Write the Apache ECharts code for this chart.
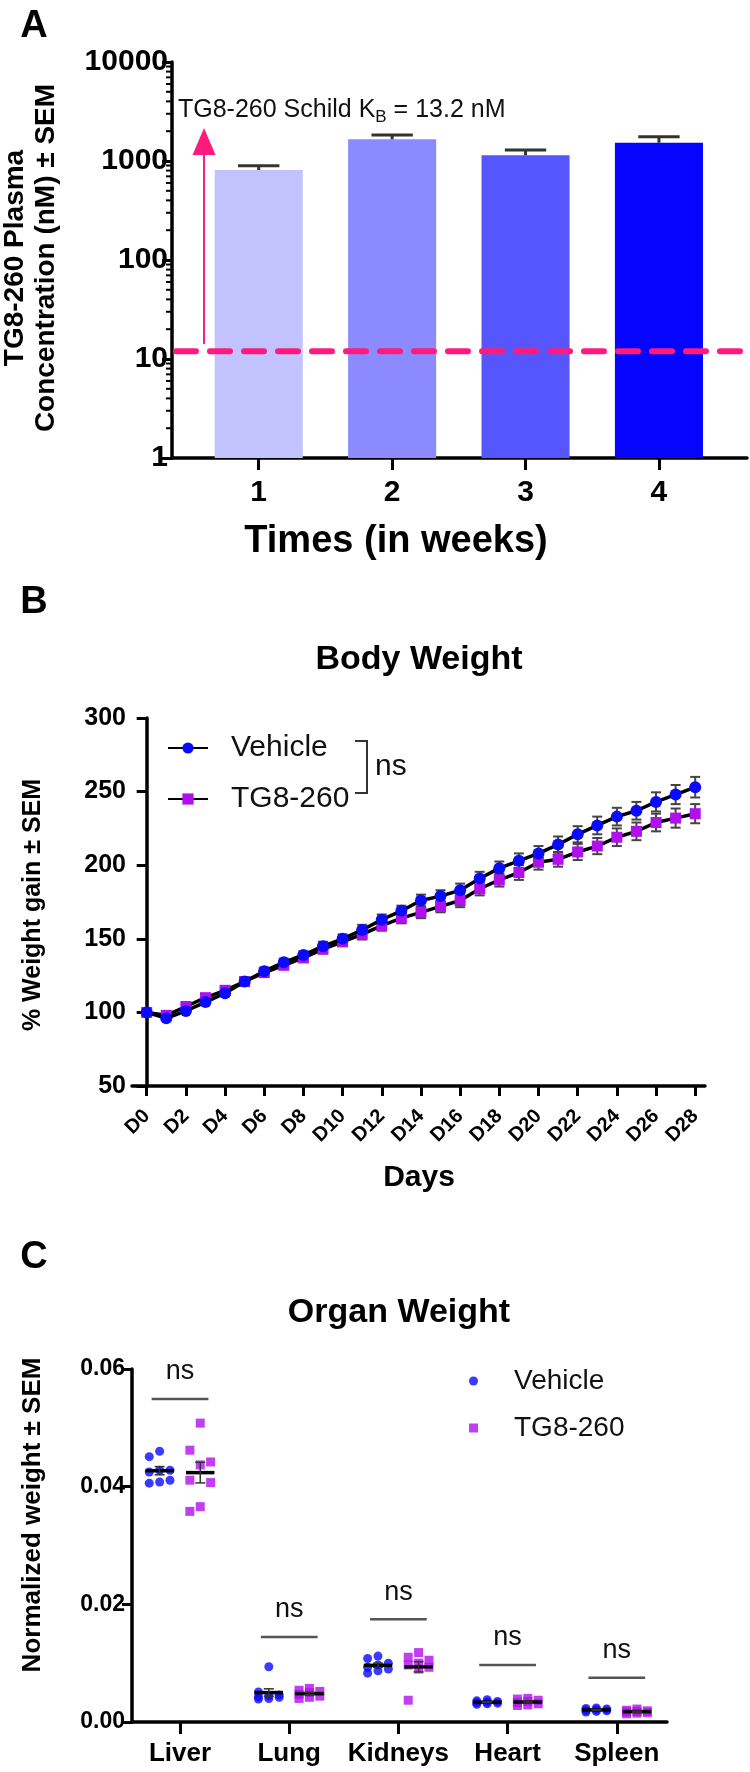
<!DOCTYPE html>
<html><head><meta charset="utf-8">
<script src="https://cdn.jsdelivr.net/npm/echarts@6/dist/echarts.min.js"></script>
<style>html,body{margin:0;padding:0;background:#fff}#c{width:750px;height:1772px}</style>
</head><body><div id="c"></div>
<script>
// ---------- Panel A data ----------
const weeks = [1, 2, 3, 4];
const plasmaMean = [811, 1657, 1142, 1530];
const plasmaSEM = [86, 175, 149, 232];
const barColors = ['#c2c2ff', '#8b8bff', '#5656ff', '#0404ff'];
const kbLineLevel = 12;          // dashed line level (K_B = 13.2 nM)
const logTickLabels = ['1', '10', '100', '1000', '10000'];

// ---------- Panel B data ----------
const days = ['D0','D1','D2','D3','D4','D5','D6','D7','D8','D9','D10','D11','D12','D13','D14',
  'D15','D16','D17','D18','D19','D20','D21','D22','D23','D24','D25','D26','D27','D28'];
const dayTicks = [0, 2, 4, 6, 8, 10, 12, 14, 16, 18, 20, 22, 24, 26, 28];
const vehicleWeight = [100, 96, 101, 107, 113, 121, 128, 134, 139, 145, 150, 156, 163, 169, 176,
  179, 183, 191, 198, 203, 208, 214, 221, 227, 233, 237, 243, 248, 253];
const vehicleWeightSEM = [1, 1, 1.5, 1.5, 2, 2, 2.5, 2.5, 2.5, 3, 3, 3.5, 3.5, 3.5, 4,
  4, 4.5, 4.5, 4.5, 5, 5, 5.5, 5.5, 6, 6, 6, 6.5, 6.5, 7];
const tgWeight = [100, 98, 104, 110, 115, 121, 127, 132, 137, 143, 148, 153, 159, 164, 168,
  172, 176, 184, 190, 195, 202, 204, 209, 213, 219, 223, 229, 232, 235];
const tgWeightSEM = [1, 1, 1.5, 1.5, 2, 2, 2.5, 2.5, 2.5, 3, 3, 3.5, 3.5, 3.5, 4,
  4, 4.5, 4.5, 4.5, 5, 5, 5, 5.5, 5.5, 6, 6, 6, 6.5, 6.5];

// ---------- Panel C data ----------
const organs = ['Liver', 'Lung', 'Kidneys', 'Heart', 'Spleen'];
const vehicleOrgan = [
  [0.0460, 0.0451, 0.0428, 0.0428, 0.0425, 0.0411, 0.0408, 0.0406],
  [0.0094, 0.0051, 0.0046, 0.0045, 0.0043, 0.0042, 0.0040, 0.0039],
  [0.0112, 0.0108, 0.0100, 0.0097, 0.0093, 0.0090, 0.0087, 0.0083],
  [0.0038, 0.0036, 0.0035, 0.0034, 0.0033, 0.0032, 0.0031, 0.0030],
  [0.0024, 0.0023, 0.0022, 0.0021, 0.0020, 0.0019, 0.0018, 0.0017]
];
const tgOrgan = [
  [0.0508, 0.0462, 0.0442, 0.0437, 0.0411, 0.0407, 0.0358, 0.0366],
  [0.0057, 0.0054, 0.0052, 0.0050, 0.0047, 0.0044, 0.0042, 0.0040],
  [0.0118, 0.0110, 0.0105, 0.0100, 0.0097, 0.0093, 0.0090, 0.0037],
  [0.0040, 0.0039, 0.0037, 0.0035, 0.0033, 0.0031, 0.0029, 0.0028],
  [0.0022, 0.0020, 0.0019, 0.0018, 0.0017, 0.0016, 0.0015, 0.0014]
];
const nsLineLevel = [0.0549, 0.01446, 0.01747, 0.0097, 0.00754];

// ---------- helpers ----------
const FONT = '"Liberation Sans", Arial, sans-serif';
const BLUE = '#0a0aff', PURPLE = '#b010ee', PINK = '#ff1a7c';
const A_XMIN = 0.35, A_XMAX = 4.66;
const B_XMIN = -0.75, B_XMAX = 28.5;
const C_XMIN = 0.56, C_XMAX = 5.46;

function mean(a) { return a.reduce((s, v) => s + v, 0) / a.length; }
function sem(a) {
  const m = mean(a);
  const sd = Math.sqrt(a.reduce((s, v) => s + (v - m) * (v - m), 0) / (a.length - 1));
  return sd / Math.sqrt(a.length);
}
function swarm(values, center) {
  const order = values.map((v, i) => i).sort((a, b) => values[b] - values[a]);
  const cols = [0, -1, 1];
  return order.map((k, r) => [center + cols[r % 3] * 0.095, values[k]]);
}
const minorLog = [];
[1, 10, 100, 1000].forEach(d => { for (let m = 2; m <= 9; m++) minorLog.push(m * d); });

const axisLineStyle = { lineStyle: { color: '#000', width: 3.5 } };
const tick = (len) => ({ show: true, inside: false, length: len, lineStyle: { color: '#000', width: 3 } });
const boldLabel = (size) => ({ color: '#000', fontWeight: 'bold', fontSize: size, fontFamily: FONT });

const vehSwarm = [], tgSwarm = [], meanSem = [];
organs.forEach((o, i) => {
  vehSwarm.push(...swarm(vehicleOrgan[i], i + 1 - 0.187));
  tgSwarm.push(...swarm(tgOrgan[i], i + 1 + 0.185));
  meanSem.push([i + 1 - 0.187, mean(vehicleOrgan[i]), sem(vehicleOrgan[i])]);
  meanSem.push([i + 1 + 0.185, mean(tgOrgan[i]), sem(tgOrgan[i])]);
});

function txt(text, x, y, size, bold, rot) {
  return { type: 'text', x: x, y: y, rotation: rot || 0, z: 10,
    style: { text: text, font: (bold ? 'bold ' : '') + size + 'px ' + FONT, fill: '#000',
      align: 'center', verticalAlign: 'middle' } };
}

const chart = echarts.init(document.getElementById('c'), null, { renderer: 'canvas', width: 750, height: 1772 });

const option = {
  backgroundColor: '#fff',
  animation: false,
  textStyle: { fontFamily: FONT },
  grid: [
    { left: 172, top: 62, width: 575, height: 396 },
    { left: 132, top: 718, width: 573, height: 368 },
    { left: 132, top: 1369, width: 535, height: 353 }
  ],
  legend: [
    { data: ['Vehicle', 'TG8-260'], orient: 'vertical', left: 162, top: 728,
      itemWidth: 40, itemHeight: 14, itemGap: 21,
      textStyle: { fontSize: 30, color: '#111', fontFamily: FONT, padding: [0, 0, 0, 18] } },
    { data: [{ name: 'Vehicle (organ)', icon: 'circle' }, { name: 'TG8-260 (organ)', icon: 'rect' }],
      orient: 'vertical', left: 464, top: 1362, itemWidth: 9, itemHeight: 9, itemGap: 19,
      formatter: n => n.replace(' (organ)', ''),
      textStyle: { fontSize: 28, color: '#111', fontFamily: FONT, padding: [0, 0, 0, 31] } }
  ],
  xAxis: [
    { gridIndex: 0, type: 'value', min: A_XMIN, max: A_XMAX, splitLine: { show: false },
      axisLine: axisLineStyle, axisTick: Object.assign({ customValues: weeks }, tick(12)),
      axisLabel: Object.assign({ customValues: weeks, margin: 20, formatter: v => String(Math.round(v)) }, boldLabel(30)) },
    { gridIndex: 1, type: 'value', min: B_XMIN, max: B_XMAX, splitLine: { show: false },
      axisLine: axisLineStyle,
      axisTick: Object.assign({ customValues: dayTicks }, tick(10)),
      axisLabel: Object.assign({ customValues: dayTicks, rotate: 45, margin: 27,
        formatter: v => days[Math.round(v)] }, boldLabel(20)) },
    { gridIndex: 2, type: 'value', min: C_XMIN, max: C_XMAX, splitLine: { show: false },
      axisLine: axisLineStyle,
      axisTick: Object.assign({ customValues: [1, 2, 3, 4, 5] }, tick(12)),
      axisLabel: Object.assign({ customValues: [1, 2, 3, 4, 5], margin: 19,
        formatter: v => organs[Math.round(v) - 1] }, boldLabel(26)) }
  ],
  yAxis: [
    { gridIndex: 0, type: 'log', logBase: 10, min: 1, max: 10000, splitNumber: 4,
      splitLine: { show: false }, axisLine: axisLineStyle, axisTick: tick(10),
      axisLabel: Object.assign({ margin: 4, formatter: v => logTickLabels[Math.round(Math.log10(v))] }, boldLabel(30)) },
    { gridIndex: 1, type: 'value', min: 50, max: 300, interval: 50,
      splitLine: { show: false }, axisLine: axisLineStyle, axisTick: tick(10),
      axisLabel: Object.assign({ margin: 6 }, boldLabel(25)) },
    { gridIndex: 2, type: 'value', min: 0, max: 0.06, interval: 0.02,
      splitLine: { show: false }, axisLine: axisLineStyle, axisTick: tick(10),
      axisLabel: Object.assign({ margin: 7, formatter: v => v.toFixed(2) }, boldLabel(23)) }
  ],
  graphic: [
    txt('A', 34, 27, 38, true),
    txt('B', 34, 603, 38, true),
    txt('C', 34, 1258, 38, true),
    txt('TG8-260 Plasma', 15, 258, 28, true, Math.PI / 2),
    txt('Concentration (nM) ± SEM', 46, 258, 28, true, Math.PI / 2),
    txt('Times (in weeks)', 396, 542, 38, true),
    txt('Body Weight', 419, 660, 34, true),
    txt('% Weight gain ± SEM', 33, 905, 25, true, Math.PI / 2),
    txt('Days', 419, 1178, 30, true),
    txt('Organ Weight', 399, 1313, 34, true),
    txt('Normalized weight ± SEM', 33, 1515, 26, true, Math.PI / 2),
    { type: 'polyline', shape: { points: [[355, 741], [367, 741], [367, 793], [355, 793]] },
      style: { stroke: '#333', lineWidth: 2, fill: null } },
    { type: 'text', x: 375, y: 767, style: { text: 'ns', font: '30px ' + FONT, fill: '#111',
      align: 'left', verticalAlign: 'middle' } }
  ],
  series: [
    // ---- Panel A: bars with upper SEM ----
    { type: 'custom', xAxisIndex: 0, yAxisIndex: 0, z: 2,
      data: weeks.map((w, i) => [w, plasmaMean[i], plasmaSEM[i], i]),
      renderItem: (params, api) => {
        const x = api.value(0), v = api.value(1), s = api.value(2), k = api.value(3);
        const l = api.coord([x - 0.33, 1]), r = api.coord([x + 0.33, v]);
        const top = api.coord([x, v]), et = api.coord([x, v + s]);
        const cl = api.coord([x - 0.155, v + s]), cr = api.coord([x + 0.155, v + s]);
        return { type: 'group', children: [
          { type: 'rect', shape: { x: l[0], y: r[1], width: r[0] - l[0], height: l[1] - r[1] },
            style: { fill: barColors[k] } },
          { type: 'line', shape: { x1: top[0], y1: top[1], x2: et[0], y2: et[1] },
            style: { stroke: '#333', lineWidth: 3 } },
          { type: 'line', shape: { x1: cl[0], y1: cl[1], x2: cr[0], y2: cr[1] },
            style: { stroke: '#333', lineWidth: 3 } }
        ] };
      } },
    // ---- Panel A: log minor ticks ----
    { type: 'custom', xAxisIndex: 0, yAxisIndex: 0, z: 3, silent: true,
      data: minorLog.map(v => [A_XMIN, v]),
      renderItem: (params, api) => {
        const p = api.coord([api.value(0), api.value(1)]);
        return { type: 'line', shape: { x1: p[0] - 6, y1: p[1], x2: p[0], y2: p[1] },
          style: { stroke: '#000', lineWidth: 2 } };
      } },
    // ---- Panel A: K_B dashed line, arrow and label ----
    { type: 'custom', xAxisIndex: 0, yAxisIndex: 0, z: 4, silent: true,
      data: [[kbLineLevel]],
      renderItem: (params, api) => {
        const kb = api.value(0);
        const a = api.coord([A_XMIN, kb]), b = api.coord([A_XMAX, kb]);
        const base = api.coord([0.59, 14.2]), head = api.coord([0.59, 1150]), tip = api.coord([0.59, 2150]);
        const t = api.coord([0.395, 3275]);
        return { type: 'group', children: [
          { type: 'line', shape: { x1: a[0] + 4, y1: a[1], x2: b[0], y2: b[1] },
            style: { stroke: PINK, lineWidth: 6, lineDash: [20, 14], lineCap: 'round' } },
          { type: 'line', shape: { x1: base[0], y1: base[1], x2: head[0], y2: head[1] },
            style: { stroke: PINK, lineWidth: 2 } },
          { type: 'polygon', shape: { points: [[tip[0], tip[1]], [head[0] - 11.5, head[1]], [head[0] + 11.5, head[1]]] },
            style: { fill: PINK } },
          { type: 'text', x: t[0], y: t[1],
            style: { text: 'TG8-260 Schild K{s|B} = 13.2 nM', fill: '#111', font: '25px ' + FONT,
              verticalAlign: 'middle', align: 'left',
              rich: { s: { fontSize: 17, padding: [14, 0, 0, 0], fill: '#111', fontFamily: FONT } } } }
        ] };
      } },
    // ---- Panel B: error bars ----
    { type: 'custom', xAxisIndex: 1, yAxisIndex: 1, z: 1, silent: true,
      data: vehicleWeight.map((v, i) => [i, v, vehicleWeightSEM[i]]).concat(tgWeight.map((v, i) => [i, v, tgWeightSEM[i]])),
      renderItem: (params, api) => {
        const x = api.value(0), v = api.value(1), s = api.value(2);
        const hi = api.coord([x, v + s]), lo = api.coord([x, v - s]);
        const st = { stroke: '#444', lineWidth: 2 };
        return { type: 'group', children: [
          { type: 'line', shape: { x1: hi[0], y1: hi[1], x2: lo[0], y2: lo[1] }, style: st },
          { type: 'line', shape: { x1: hi[0] - 5, y1: hi[1], x2: hi[0] + 5, y2: hi[1] }, style: st },
          { type: 'line', shape: { x1: lo[0] - 5, y1: lo[1], x2: lo[0] + 5, y2: lo[1] }, style: st }
        ] };
      } },
    // ---- Panel B: lines ----
    { type: 'line', name: 'TG8-260', xAxisIndex: 1, yAxisIndex: 1, z: 3,
      data: tgWeight.map((v, i) => [i, v]),
      symbol: 'rect', symbolSize: 11, lineStyle: { color: '#000', width: 3.5 },
      itemStyle: { color: PURPLE } },
    { type: 'line', name: 'Vehicle', xAxisIndex: 1, yAxisIndex: 1, z: 4,
      data: vehicleWeight.map((v, i) => [i, v]),
      symbol: 'circle', symbolSize: 12, lineStyle: { color: '#000', width: 3.5 },
      itemStyle: { color: BLUE } },
    // ---- Panel C: scatter ----
    { type: 'scatter', name: 'Vehicle (organ)', xAxisIndex: 2, yAxisIndex: 2, z: 3, data: vehSwarm,
      symbol: 'circle', symbolSize: 9, itemStyle: { color: BLUE } },
    { type: 'scatter', name: 'TG8-260 (organ)', xAxisIndex: 2, yAxisIndex: 2, z: 3, data: tgSwarm,
      symbol: 'rect', symbolSize: 9, itemStyle: { color: PURPLE } },
    // ---- Panel C: mean ± SEM ----
    { type: 'custom', xAxisIndex: 2, yAxisIndex: 2, z: 5, silent: true, data: meanSem,
      renderItem: (params, api) => {
        const x = api.value(0), m = api.value(1), s = api.value(2);
        const ml = api.coord([x - 0.13, m]), mr = api.coord([x + 0.13, m]);
        const hi = api.coord([x, m + s]), lo = api.coord([x, m - s]);
        const st = { stroke: '#333', lineWidth: 1.5 };
        return { type: 'group', children: [
          { type: 'line', shape: { x1: ml[0], y1: ml[1], x2: mr[0], y2: mr[1] }, style: { stroke: '#000', lineWidth: 3.5 } },
          { type: 'line', shape: { x1: hi[0], y1: hi[1], x2: lo[0], y2: lo[1] }, style: st },
          { type: 'line', shape: { x1: hi[0] - 5, y1: hi[1], x2: hi[0] + 5, y2: hi[1] }, style: st },
          { type: 'line', shape: { x1: lo[0] - 5, y1: lo[1], x2: lo[0] + 5, y2: lo[1] }, style: st }
        ] };
      } },
    // ---- Panel C: ns annotations ----
    { type: 'custom', xAxisIndex: 2, yAxisIndex: 2, z: 5, silent: true,
      data: nsLineLevel.map((y, i) => [i + 1, y]),
      renderItem: (params, api) => {
        const x = api.value(0), y = api.value(1);
        const l = api.coord([x - 0.26, y]), r = api.coord([x + 0.26, y]), c = api.coord([x, y]);
        return { type: 'group', children: [
          { type: 'line', shape: { x1: l[0], y1: l[1], x2: r[0], y2: r[1] }, style: { stroke: '#555', lineWidth: 2.5 } },
          { type: 'text', x: c[0], y: c[1] - 27,
            style: { text: 'ns', fill: '#111', font: '27px ' + FONT, align: 'center', verticalAlign: 'middle' } }
        ] };
      } }
  ]
};
chart.setOption(option);
</script>
</body></html>
